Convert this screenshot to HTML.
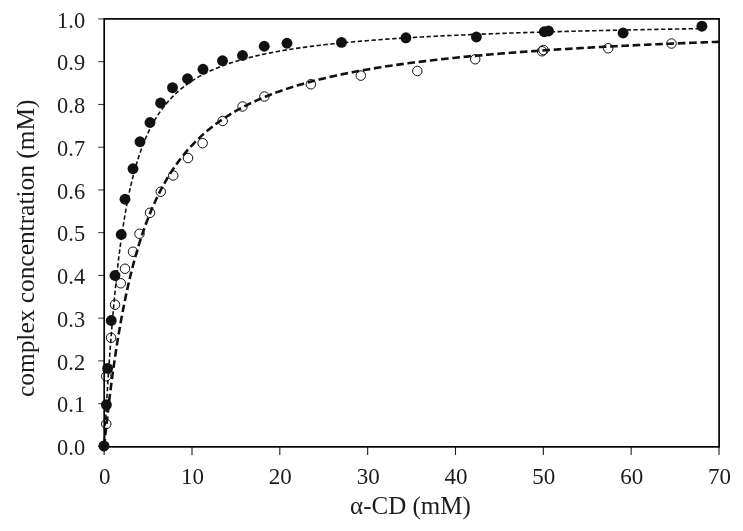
<!DOCTYPE html>
<html><head><meta charset="utf-8"><title>complex concentration vs α-CD</title>
<style>html,body{margin:0;padding:0;background:#fff;}body{width:743px;height:531px;overflow:hidden;}svg{display:block;}text{font-family:"Liberation Serif","Times New Roman",serif;fill:#1c1c1c;}</style></head><body>
<svg width="743" height="531" viewBox="0 0 743 531">
<rect width="743" height="531" fill="#ffffff"/>
<g stroke="#1a1a1a" stroke-width="0.9" fill="none">
<line x1="98.2" y1="446.40" x2="104.2" y2="446.40"/>
<line x1="98.2" y1="403.65" x2="104.2" y2="403.65"/>
<line x1="98.2" y1="360.91" x2="104.2" y2="360.91"/>
<line x1="98.2" y1="318.16" x2="104.2" y2="318.16"/>
<line x1="98.2" y1="275.42" x2="104.2" y2="275.42"/>
<line x1="98.2" y1="232.67" x2="104.2" y2="232.67"/>
<line x1="98.2" y1="189.93" x2="104.2" y2="189.93"/>
<line x1="98.2" y1="147.19" x2="104.2" y2="147.19"/>
<line x1="98.2" y1="104.44" x2="104.2" y2="104.44"/>
<line x1="98.2" y1="61.69" x2="104.2" y2="61.69"/>
<line x1="98.2" y1="18.95" x2="104.2" y2="18.95"/>
<line x1="104.15" y1="446.9" x2="104.15" y2="454.9" stroke-width="1.1"/>
<line x1="191.99" y1="446.9" x2="191.99" y2="454.9" stroke-width="1.1"/>
<line x1="279.82" y1="446.9" x2="279.82" y2="454.9" stroke-width="1.1"/>
<line x1="367.66" y1="446.9" x2="367.66" y2="454.9" stroke-width="1.1"/>
<line x1="455.49" y1="446.9" x2="455.49" y2="454.9" stroke-width="1.1"/>
<line x1="543.33" y1="446.9" x2="543.33" y2="454.9" stroke-width="1.1"/>
<line x1="631.16" y1="446.9" x2="631.16" y2="454.9" stroke-width="1.1"/>
<line x1="719.00" y1="446.9" x2="719.00" y2="454.9" stroke-width="1.1"/>
</g>
<path d="M104.15,446.40 L104.52,439.43 L104.89,432.59 L105.26,425.90 L105.63,419.34 L106.00,412.91 L106.36,406.62 L106.73,400.46 L107.10,394.43 L107.47,388.52 L107.84,382.74 L108.21,377.08 L108.58,371.54 L108.95,366.12 L109.32,360.82 L109.69,355.63 L110.05,350.55 L110.42,345.58 L110.79,340.72 L111.16,335.96 L111.53,331.31 L111.90,326.76 L112.27,322.31 L112.64,317.95 L113.01,313.69 L113.38,309.52 L113.75,305.44 L114.11,301.45 L114.48,297.54 L114.85,293.72 L115.22,289.98 L115.59,286.32 L115.96,282.74 L116.33,279.23 L116.70,275.80 L117.07,272.45 L117.44,269.16 L117.81,265.94 L118.17,262.79 L118.54,259.71 L118.91,256.69 L119.28,253.73 L119.65,250.84 L120.02,248.00 L120.39,245.22 L120.76,242.50 L121.13,239.83 L121.50,237.22 L121.86,234.66 L122.23,232.15 L122.60,229.69 L122.97,227.28 L123.34,224.92 L123.71,222.60 L124.08,220.33 L124.45,218.10 L124.82,215.92 L125.19,213.77 L125.56,211.67 L125.92,209.61 L126.29,207.59 L126.66,205.60 L127.03,203.65 L127.40,201.74 L127.77,199.86 L128.14,198.02 L128.51,196.21 L128.88,194.43 L129.25,192.68 L129.61,190.97 L129.98,189.29 L130.35,187.63 L130.72,186.01 L131.09,184.41 L131.46,182.84 L131.83,181.30 L132.20,179.78 L132.57,178.29 L132.94,176.83 L133.31,175.38 L133.67,173.97 L134.04,172.57 L134.41,171.20 L134.78,169.86 L135.15,168.53 L135.52,167.23 L135.89,165.94 L136.26,164.68 L136.63,163.44 L137.00,162.21 L137.37,161.01 L137.73,159.82 L138.10,158.66 L138.47,157.51 L138.84,156.38 L139.21,155.26 L139.58,154.17 L139.95,153.08 L140.32,152.02 L140.69,150.97 L141.06,149.94 L141.42,148.92 L141.79,147.91 L142.16,146.93 L142.53,145.95 L142.90,144.99 L143.27,144.04 L143.64,143.11 L144.01,142.19 L144.38,141.28 L144.75,140.39 L145.12,139.50 L145.48,138.63 L145.85,137.77 L146.22,136.93 L146.59,136.09 L146.96,135.27 L147.33,134.45 L147.70,133.65 L148.07,132.86 L149.92,129.04 L151.77,125.45 L153.62,122.09 L155.48,118.92 L157.33,115.94 L159.18,113.12 L161.03,110.46 L162.89,107.94 L164.74,105.55 L166.59,103.29 L168.44,101.13 L170.29,99.08 L172.15,97.13 L174.00,95.27 L175.85,93.50 L177.70,91.80 L179.56,90.18 L181.41,88.63 L183.26,87.14 L185.11,85.71 L186.96,84.35 L188.82,83.03 L190.67,81.77 L192.52,80.55 L194.37,79.38 L196.22,78.26 L198.08,77.17 L199.93,76.12 L201.78,75.11 L203.63,74.14 L205.49,73.20 L207.34,72.28 L209.19,71.40 L211.04,70.55 L212.89,69.72 L214.75,68.92 L216.60,68.15 L218.45,67.39 L220.30,66.66 L222.16,65.96 L224.01,65.27 L225.86,64.60 L227.71,63.95 L229.56,63.32 L231.42,62.71 L233.27,62.11 L235.12,61.53 L236.97,60.96 L238.83,60.41 L240.68,59.88 L242.53,59.35 L244.38,58.84 L246.23,58.34 L248.09,57.86 L249.94,57.39 L251.79,56.92 L253.64,56.47 L255.49,56.03 L257.35,55.60 L259.20,55.18 L261.05,54.77 L262.90,54.37 L264.76,53.97 L266.61,53.59 L268.46,53.21 L270.31,52.85 L272.16,52.49 L274.02,52.13 L275.87,51.79 L277.72,51.45 L279.57,51.12 L281.43,50.79 L283.28,50.47 L285.13,50.16 L286.98,49.86 L288.83,49.56 L290.69,49.26 L292.54,48.97 L294.39,48.69 L296.24,48.41 L298.10,48.14 L299.95,47.87 L301.80,47.61 L303.65,47.35 L305.50,47.10 L307.36,46.85 L309.21,46.60 L311.06,46.36 L312.91,46.12 L314.76,45.89 L316.62,45.66 L318.47,45.44 L320.32,45.22 L322.17,45.00 L324.03,44.79 L325.88,44.58 L327.73,44.37 L329.58,44.17 L331.43,43.97 L333.29,43.77 L335.14,43.58 L336.99,43.38 L338.84,43.20 L340.70,43.01 L342.55,42.83 L344.40,42.65 L346.25,42.47 L348.10,42.30 L349.96,42.12 L351.81,41.96 L353.66,41.79 L355.51,41.62 L357.37,41.46 L359.22,41.30 L361.07,41.14 L362.92,40.99 L364.77,40.84 L366.63,40.68 L368.48,40.54 L370.33,40.39 L372.18,40.24 L374.03,40.10 L375.89,39.96 L377.74,39.82 L379.59,39.68 L381.44,39.55 L383.30,39.41 L385.15,39.28 L387.00,39.15 L388.85,39.02 L390.70,38.89 L392.56,38.77 L394.41,38.64 L396.26,38.52 L398.11,38.40 L399.97,38.28 L401.82,38.16 L403.67,38.05 L405.52,37.93 L407.37,37.82 L409.23,37.70 L411.08,37.59 L412.93,37.48 L414.78,37.38 L416.64,37.27 L418.49,37.16 L420.34,37.06 L422.19,36.95 L424.04,36.85 L425.90,36.75 L427.75,36.65 L429.60,36.55 L431.45,36.45 L433.30,36.36 L435.16,36.26 L437.01,36.17 L438.86,36.07 L440.71,35.98 L442.57,35.89 L444.42,35.80 L446.27,35.71 L448.12,35.62 L449.97,35.53 L451.83,35.44 L453.68,35.36 L455.53,35.27 L457.38,35.19 L459.24,35.10 L461.09,35.02 L462.94,34.94 L464.79,34.86 L466.64,34.78 L468.50,34.70 L470.35,34.62 L472.20,34.54 L474.05,34.47 L475.91,34.39 L477.76,34.31 L479.61,34.24 L481.46,34.17 L483.31,34.09 L485.17,34.02 L487.02,33.95 L488.87,33.88 L490.72,33.81 L492.57,33.74 L494.43,33.67 L496.28,33.60 L498.13,33.53 L499.98,33.46 L501.84,33.40 L503.69,33.33 L505.54,33.27 L507.39,33.20 L509.24,33.14 L511.10,33.07 L512.95,33.01 L514.80,32.95 L516.65,32.88 L518.51,32.82 L520.36,32.76 L522.21,32.70 L524.06,32.64 L525.91,32.58 L527.77,32.52 L529.62,32.47 L531.47,32.41 L533.32,32.35 L535.18,32.29 L537.03,32.24 L538.88,32.18 L540.73,32.13 L542.58,32.07 L544.44,32.02 L546.29,31.96 L548.14,31.91 L549.99,31.86 L551.84,31.80 L553.70,31.75 L555.55,31.70 L557.40,31.65 L559.25,31.60 L561.11,31.55 L562.96,31.49 L564.81,31.45 L566.66,31.40 L568.51,31.35 L570.37,31.30 L572.22,31.25 L574.07,31.20 L575.92,31.15 L577.78,31.11 L579.63,31.06 L581.48,31.01 L583.33,30.97 L585.18,30.92 L587.04,30.88 L588.89,30.83 L590.74,30.79 L592.59,30.74 L594.45,30.70 L596.30,30.65 L598.15,30.61 L600.00,30.57 L601.85,30.52 L603.71,30.48 L605.56,30.44 L607.41,30.40 L609.26,30.36 L611.11,30.32 L612.97,30.27 L614.82,30.23 L616.67,30.19 L618.52,30.15 L620.38,30.11 L622.23,30.07 L624.08,30.04 L625.93,30.00 L627.78,29.96 L629.64,29.92 L631.49,29.88 L633.34,29.84 L635.19,29.81 L637.05,29.77 L638.90,29.73 L640.75,29.69 L642.60,29.66 L644.45,29.62 L646.31,29.58 L648.16,29.55 L650.01,29.51 L651.86,29.48 L653.72,29.44 L655.57,29.41 L657.42,29.37 L659.27,29.34 L661.12,29.30 L662.98,29.27 L664.83,29.24 L666.68,29.20 L668.53,29.17 L670.38,29.14 L672.24,29.10 L674.09,29.07 L675.94,29.04 L677.79,29.01 L679.65,28.97 L681.50,28.94 L683.35,28.91 L685.20,28.88 L687.05,28.85 L688.91,28.82 L690.76,28.79 L692.61,28.76 L694.46,28.73 L696.32,28.69 L698.17,28.66 L700.02,28.63 L701.87,28.60" fill="none" stroke="#111" stroke-width="1.6" stroke-dasharray="4.4 2.5"/>
<path d="M104.15,446.40 L104.52,442.76 L104.89,439.17 L105.26,435.63 L105.63,432.13 L106.00,428.68 L106.36,425.28 L106.73,421.93 L107.10,418.61 L107.47,415.35 L107.84,412.12 L108.21,408.94 L108.58,405.81 L108.95,402.71 L109.32,399.65 L109.69,396.64 L110.05,393.66 L110.42,390.73 L110.79,387.83 L111.16,384.97 L111.53,382.14 L111.90,379.36 L112.27,376.60 L112.64,373.89 L113.01,371.21 L113.38,368.56 L113.75,365.95 L114.11,363.37 L114.48,360.82 L114.85,358.31 L115.22,355.82 L115.59,353.37 L115.96,350.95 L116.33,348.56 L116.70,346.20 L117.07,343.87 L117.44,341.56 L117.81,339.29 L118.17,337.04 L118.54,334.82 L118.91,332.63 L119.28,330.46 L119.65,328.32 L120.02,326.21 L120.39,324.12 L120.76,322.06 L121.13,320.02 L121.50,318.00 L121.86,316.01 L122.23,314.05 L122.60,312.10 L122.97,310.18 L123.34,308.28 L123.71,306.40 L124.08,304.55 L124.45,302.71 L124.82,300.90 L125.19,299.11 L125.56,297.34 L125.92,295.59 L126.29,293.85 L126.66,292.14 L127.03,290.45 L127.40,288.77 L127.77,287.12 L128.14,285.48 L128.51,283.86 L128.88,282.26 L129.25,280.68 L129.61,279.11 L129.98,277.56 L130.35,276.03 L130.72,274.51 L131.09,273.01 L131.46,271.53 L131.83,270.06 L132.20,268.61 L132.57,267.17 L132.94,265.75 L133.31,264.34 L133.67,262.95 L134.04,261.57 L134.41,260.21 L134.78,258.86 L135.15,257.53 L135.52,256.20 L135.89,254.90 L136.26,253.60 L136.63,252.32 L137.00,251.05 L137.37,249.79 L137.73,248.55 L138.10,247.32 L138.47,246.10 L138.84,244.89 L139.21,243.70 L139.58,242.52 L139.95,241.35 L140.32,240.19 L140.69,239.04 L141.06,237.90 L141.42,236.77 L141.79,235.66 L142.16,234.55 L142.53,233.46 L142.90,232.37 L143.27,231.30 L143.64,230.23 L144.01,229.18 L144.38,228.14 L144.75,227.10 L145.12,226.08 L145.48,225.06 L145.85,224.06 L146.22,223.06 L146.59,222.07 L146.96,221.09 L147.33,220.12 L147.70,219.16 L148.07,218.21 L149.98,213.42 L151.89,208.84 L153.80,204.46 L155.71,200.27 L157.62,196.26 L159.52,192.42 L161.43,188.73 L163.34,185.19 L165.25,181.79 L167.16,178.52 L169.07,175.37 L170.98,172.35 L172.89,169.43 L174.80,166.62 L176.71,163.91 L178.62,161.30 L180.53,158.77 L182.44,156.33 L184.35,153.97 L186.26,151.69 L188.17,149.49 L190.08,147.35 L191.99,145.28 L193.90,143.28 L195.80,141.34 L197.71,139.45 L199.62,137.63 L201.53,135.85 L203.44,134.13 L205.35,132.45 L207.26,130.83 L209.17,129.24 L211.08,127.71 L212.99,126.21 L214.90,124.75 L216.81,123.33 L218.72,121.95 L220.63,120.61 L222.54,119.30 L224.45,118.02 L226.36,116.77 L228.27,115.55 L230.18,114.37 L232.08,113.21 L233.99,112.08 L235.90,110.97 L237.81,109.90 L239.72,108.84 L241.63,107.81 L243.54,106.80 L245.45,105.82 L247.36,104.86 L249.27,103.91 L251.18,102.99 L253.09,102.09 L255.00,101.21 L256.91,100.34 L258.82,99.50 L260.73,98.67 L262.64,97.85 L264.55,97.06 L266.46,96.27 L268.36,95.51 L270.27,94.76 L272.18,94.02 L274.09,93.30 L276.00,92.59 L277.91,91.90 L279.82,91.21 L281.73,90.54 L283.64,89.89 L285.55,89.24 L287.46,88.61 L289.37,87.98 L291.28,87.37 L293.19,86.77 L295.10,86.18 L297.01,85.60 L298.92,85.03 L300.83,84.47 L302.74,83.92 L304.64,83.37 L306.55,82.84 L308.46,82.31 L310.37,81.80 L312.28,81.29 L314.19,80.79 L316.10,80.30 L318.01,79.81 L319.92,79.34 L321.83,78.87 L323.74,78.40 L325.65,77.95 L327.56,77.50 L329.47,77.06 L331.38,76.62 L333.29,76.20 L335.20,75.77 L337.11,75.36 L339.02,74.95 L340.92,74.54 L342.83,74.14 L344.74,73.75 L346.65,73.36 L348.56,72.98 L350.47,72.61 L352.38,72.24 L354.29,71.87 L356.20,71.51 L358.11,71.15 L360.02,70.80 L361.93,70.45 L363.84,70.11 L365.75,69.77 L367.66,69.44 L369.57,69.11 L371.48,68.79 L373.39,68.46 L375.30,68.15 L377.20,67.84 L379.11,67.53 L381.02,67.22 L382.93,66.92 L384.84,66.62 L386.75,66.33 L388.66,66.04 L390.57,65.75 L392.48,65.47 L394.39,65.19 L396.30,64.91 L398.21,64.64 L400.12,64.37 L402.03,64.10 L403.94,63.84 L405.85,63.58 L407.76,63.32 L409.67,63.07 L411.58,62.82 L413.48,62.57 L415.39,62.32 L417.30,62.08 L419.21,61.84 L421.12,61.60 L423.03,61.36 L424.94,61.13 L426.85,60.90 L428.76,60.67 L430.67,60.45 L432.58,60.23 L434.49,60.01 L436.40,59.79 L438.31,59.57 L440.22,59.36 L442.13,59.15 L444.04,58.94 L445.95,58.73 L447.85,58.53 L449.76,58.32 L451.67,58.12 L453.58,57.92 L455.49,57.73 L457.40,57.53 L459.31,57.34 L461.22,57.15 L463.13,56.96 L465.04,56.77 L466.95,56.59 L468.86,56.40 L470.77,56.22 L472.68,56.04 L474.59,55.86 L476.50,55.69 L478.41,55.51 L480.32,55.34 L482.23,55.17 L484.13,55.00 L486.04,54.83 L487.95,54.66 L489.86,54.50 L491.77,54.33 L493.68,54.17 L495.59,54.01 L497.50,53.85 L499.41,53.69 L501.32,53.54 L503.23,53.38 L505.14,53.23 L507.05,53.08 L508.96,52.93 L510.87,52.78 L512.78,52.63 L514.69,52.48 L516.60,52.33 L518.51,52.19 L520.41,52.05 L522.32,51.91 L524.23,51.76 L526.14,51.62 L528.05,51.49 L529.96,51.35 L531.87,51.21 L533.78,51.08 L535.69,50.94 L537.60,50.81 L539.51,50.68 L541.42,50.55 L543.33,50.42 L545.24,50.29 L547.15,50.16 L549.06,50.04 L550.97,49.91 L552.88,49.79 L554.79,49.66 L556.69,49.54 L558.60,49.42 L560.51,49.30 L562.42,49.18 L564.33,49.06 L566.24,48.94 L568.15,48.83 L570.06,48.71 L571.97,48.60 L573.88,48.48 L575.79,48.37 L577.70,48.26 L579.61,48.15 L581.52,48.04 L583.43,47.93 L585.34,47.82 L587.25,47.71 L589.16,47.60 L591.07,47.49 L592.97,47.39 L594.88,47.28 L596.79,47.18 L598.70,47.08 L600.61,46.97 L602.52,46.87 L604.43,46.77 L606.34,46.67 L608.25,46.57 L610.16,46.47 L612.07,46.37 L613.98,46.28 L615.89,46.18 L617.80,46.08 L619.71,45.99 L621.62,45.89 L623.53,45.80 L625.44,45.70 L627.35,45.61 L629.25,45.52 L631.16,45.43 L633.07,45.34 L634.98,45.25 L636.89,45.16 L638.80,45.07 L640.71,44.98 L642.62,44.89 L644.53,44.80 L646.44,44.72 L648.35,44.63 L650.26,44.54 L652.17,44.46 L654.08,44.37 L655.99,44.29 L657.90,44.21 L659.81,44.12 L661.72,44.04 L663.63,43.96 L665.53,43.88 L667.44,43.80 L669.35,43.72 L671.26,43.64 L673.17,43.56 L675.08,43.48 L676.99,43.40 L678.90,43.33 L680.81,43.25 L682.72,43.17 L684.63,43.10 L686.54,43.02 L688.45,42.94 L690.36,42.87 L692.27,42.79 L694.18,42.72 L696.09,42.65 L698.00,42.57 L699.91,42.50 L701.81,42.43 L703.72,42.36 L705.63,42.29 L707.54,42.22 L709.45,42.15 L711.36,42.08 L713.27,42.01 L715.18,41.94 L717.09,41.87 L719.00,41.80" fill="none" stroke="#111" stroke-width="2.6" stroke-dasharray="7.6 3.7"/>
<rect x="104.2" y="18.9" width="614.9" height="427.95" fill="none" stroke="#000" stroke-width="1.7"/>
<g fill="none" stroke="#111" stroke-width="1">
<circle cx="104" cy="446" r="4.75"/>
<circle cx="106.25" cy="424" r="4.75"/>
<circle cx="106.2" cy="376.3" r="4.75"/>
<circle cx="111.1" cy="337.8" r="4.75"/>
<circle cx="115" cy="304.7" r="4.75"/>
<circle cx="120.75" cy="283.25" r="4.75"/>
<circle cx="125" cy="268.75" r="4.75"/>
<circle cx="133" cy="251.75" r="4.75"/>
<circle cx="139.5" cy="233.75" r="4.75"/>
<circle cx="150" cy="212.8" r="4.75"/>
<circle cx="160.75" cy="191.75" r="4.75"/>
<circle cx="173.25" cy="175.5" r="4.75"/>
<circle cx="188" cy="158" r="4.75"/>
<circle cx="202.6" cy="143.2" r="4.75"/>
<circle cx="222.7" cy="121" r="4.75"/>
<circle cx="242.5" cy="106.5" r="4.75"/>
<circle cx="264.4" cy="96.5" r="4.75"/>
<circle cx="310.9" cy="84.25" r="4.75"/>
<circle cx="360.8" cy="75.6" r="4.75"/>
<circle cx="417.3" cy="71" r="4.75"/>
<circle cx="475.2" cy="59.25" r="4.75"/>
<circle cx="542" cy="51.25" r="4.75"/>
<circle cx="543.5" cy="50" r="4.75"/>
<circle cx="608.2" cy="48.25" r="4.75"/>
<circle cx="671.5" cy="43.5" r="4.75"/>
</g>
<g fill="#111" stroke="none">
<circle cx="104" cy="446" r="5.45"/>
<circle cx="106.4" cy="404.8" r="5.45"/>
<circle cx="107.6" cy="368.4" r="5.45"/>
<circle cx="111.25" cy="320.5" r="5.45"/>
<circle cx="115" cy="275.5" r="5.45"/>
<circle cx="121.25" cy="234.5" r="5.45"/>
<circle cx="125" cy="199.25" r="5.45"/>
<circle cx="133" cy="168.75" r="5.45"/>
<circle cx="140" cy="141.75" r="5.45"/>
<circle cx="150" cy="122.5" r="5.45"/>
<circle cx="160.6" cy="103" r="5.45"/>
<circle cx="172.5" cy="87.7" r="5.45"/>
<circle cx="187.5" cy="78.75" r="5.45"/>
<circle cx="203" cy="69.25" r="5.45"/>
<circle cx="222.5" cy="60.75" r="5.45"/>
<circle cx="242.5" cy="55.5" r="5.45"/>
<circle cx="264.25" cy="46.25" r="5.45"/>
<circle cx="287" cy="43.25" r="5.45"/>
<circle cx="341.5" cy="42.4" r="5.45"/>
<circle cx="405.9" cy="37.8" r="5.45"/>
<circle cx="476.4" cy="37" r="5.45"/>
<circle cx="544.25" cy="31.75" r="5.45"/>
<circle cx="548.5" cy="31" r="5.45"/>
<circle cx="623.1" cy="33" r="5.45"/>
<circle cx="701.9" cy="26.2" r="5.45"/>
</g>
<g font-size="22.4" text-anchor="end">
<text x="85.1" y="455.1">0.0</text>
<text x="85.1" y="412.4">0.1</text>
<text x="85.1" y="369.6">0.2</text>
<text x="85.1" y="326.9">0.3</text>
<text x="85.1" y="284.1">0.4</text>
<text x="85.1" y="241.4">0.5</text>
<text x="85.1" y="198.6">0.6</text>
<text x="85.1" y="155.9">0.7</text>
<text x="85.1" y="113.1">0.8</text>
<text x="85.1" y="70.4">0.9</text>
<text x="85.1" y="27.6">1.0</text>
</g>
<g font-size="23" text-anchor="middle">
<text x="104.7" y="484.4">0</text>
<text x="192.5" y="484.4">10</text>
<text x="280.3" y="484.4">20</text>
<text x="368.2" y="484.4">30</text>
<text x="456.0" y="484.4">40</text>
<text x="543.8" y="484.4">50</text>
<text x="631.7" y="484.4">60</text>
<text x="719.5" y="484.4">70</text>
</g>
<text x="410.4" y="514" font-size="25" text-anchor="middle">α-CD (mM)</text>
<text transform="translate(33.8,248.3) rotate(-90)" font-size="25.4" text-anchor="middle">complex concentration (mM)</text>
</svg></body></html>
